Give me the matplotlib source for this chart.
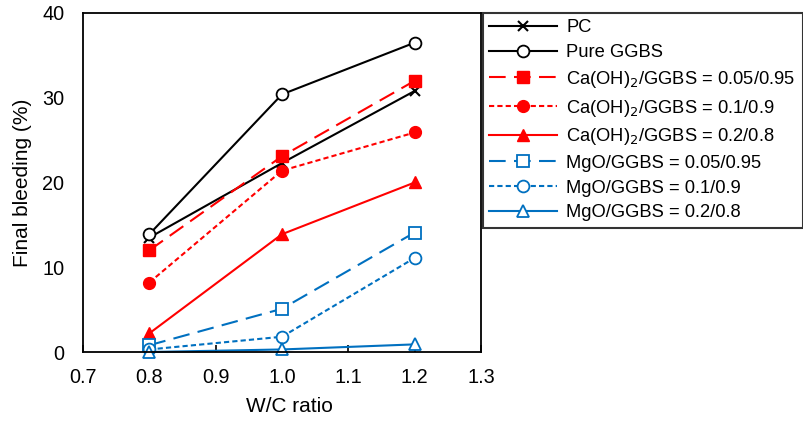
import matplotlib
matplotlib.use("Agg")
import matplotlib.pyplot as plt

plt.rcParams['font.family'] = ['Liberation Sans', 'DejaVu Sans']

wc = [0.8, 1.0, 1.2]
labels = ["PC", "Pure GGBS",
          "Ca(OH)$_2$/GGBS = 0.05/0.95", "Ca(OH)$_2$/GGBS = 0.1/0.9", "Ca(OH)$_2$/GGBS = 0.2/0.8",
          "MgO/GGBS = 0.05/0.95", "MgO/GGBS = 0.1/0.9", "MgO/GGBS = 0.2/0.8"]
pc = [13.5, 22.3, 30.8]
pure_ggbs = [13.9, 30.4, 36.5]
caoh_005 = [12.0, 23.1, 32.0]
caoh_01 = [8.2, 21.4, 25.9]
caoh_02 = [2.2, 13.9, 20.0]
mgo_005 = [0.8, 5.1, 14.1]
mgo_01 = [0.3, 1.8, 11.1]
mgo_02 = [0.0, 0.3, 0.9]
xticks = [0.7, 0.8, 0.9, 1.0, 1.1, 1.2, 1.3]
yticks = [0, 10, 20, 30, 40]

red = '#FF0000'
blue = '#0070C0'
long_dash = (0, (8, 4))
short_dash = (0, (2.5, 1.5))

fig = plt.figure(figsize=(8.04, 4.23), dpi=100)
ax = fig.add_axes([83/804, 1-352/423, (481-83)/804, (352-13)/423])

series = [
    (pc, dict(color='k', ls='-', marker='x', mfc='k', ms=7, mew=1.5)),
    (pure_ggbs, dict(color='k', ls='-', marker='o', mfc='white', ms=8.5, mew=1.3)),
    (caoh_005, dict(color=red, ls=long_dash, marker='s', mfc=red, ms=8.5)),
    (caoh_01, dict(color=red, ls=short_dash, marker='o', mfc=red, ms=8.5)),
    (caoh_02, dict(color=red, ls='-', marker='^', mfc=red, ms=8.5)),
    (mgo_005, dict(color=blue, ls=long_dash, marker='s', mfc='white', ms=8, mew=1.3)),
    (mgo_01, dict(color=blue, ls=short_dash, marker='o', mfc='white', ms=8.5, mew=1.3)),
    (mgo_02, dict(color=blue, ls='-', marker='^', mfc='white', ms=8.5, mew=1.3)),
]
handles = []
for (vals, kw), lab in zip(series, labels):
    h, = ax.plot(wc, vals, lw=1.5, label=lab, clip_on=False, **kw)
    handles.append(h)

ax.set_xlim(0.7, 1.3)
ax.set_ylim(0, 40)
ax.set_xticks(xticks)
ax.set_xticklabels([f"{t:.1f}" for t in xticks])
ax.set_yticks(yticks)
ax.tick_params(axis='x', direction='in', length=5, width=1.2, labelsize=14.3, pad=11.5)
ax.tick_params(axis='y', length=0, labelsize=14.3, pad=13.5)
for s in ax.spines.values():
    s.set_linewidth(1.3)
ax.set_xlabel("W/C ratio", fontsize=15, labelpad=7, x=(289-83)/398)
ax.set_ylabel("Final bleeding (%)", fontsize=15, labelpad=7)

leg = fig.legend(handles=handles, labels=labels, loc='upper left',
                 bbox_to_anchor=(483/804, 1-13/423, (803-483)/804, 0.0),
                 mode='expand', borderaxespad=0, fontsize=13.2, frameon=True,
                 fancybox=False, edgecolor='k', handlelength=3.7,
                 labelspacing=0.42, borderpad=0.35, handletextpad=0.5)
leg.get_frame().set_linewidth(1.5)

fig.savefig("out.png", dpi=100)
